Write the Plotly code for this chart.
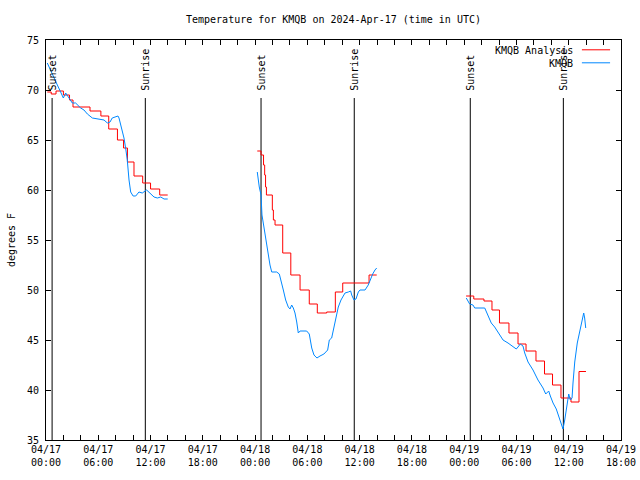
import pandas as pd
import plotly.graph_objects as go

BASE = pd.Timestamp("2024-04-17 00:00")

# ---------------- data (hours after 2024-04-17 00:00 UTC, degrees F) ----------------
obs_h1 = [0.15, 0.73, 1.3, 1.68, 1.99, 2.26, 2.64, 3.02, 3.4, 3.6, 3.98, 4.36, 4.75, 5.32, 6.08, 6.66,
          7.04, 7.35, 7.6, 8.26, 8.38, 8.65, 8.95, 9.14, 9.33, 9.53, 9.72, 10.0, 10.3, 10.67, 11.05,
          11.55, 11.94, 12.4, 12.78, 13.17, 13.55, 13.97]
obs_t1 = [72.7, 71.5, 70.5, 69.8, 69.2, 69.7, 69.2, 68.7, 68.7, 68.5, 68.2, 68.0, 67.6, 67.2, 67.1, 67.0,
          66.7, 66.8, 67.2, 67.4, 67.2, 66.3, 65.2, 64.2, 63.0, 61.0, 59.8, 59.4, 59.4, 59.8, 59.7,
          60.0, 59.7, 59.3, 59.2, 59.3, 59.1, 59.1]

obs_h2 = [24.25, 24.37, 24.48, 24.68, 24.76, 24.79, 24.94, 25.14, 25.33, 25.52, 25.71, 25.91, 26.48, 26.78,
          27.05, 27.24, 27.51, 27.81, 28.01, 28.2, 28.39, 28.58, 28.78, 28.96, 29.16, 29.92, 30.22, 30.5,
          30.76, 31.1, 31.45, 31.9, 32.33, 32.52, 32.79, 32.98, 33.29, 33.55, 33.86, 34.13, 34.32, 34.7,
          34.97, 35.09, 35.35, 35.58, 35.85, 36.04, 36.62, 36.99, 37.19, 37.5, 37.76, 37.96]
obs_t2 = [61.8, 60.8, 60.3, 59.5, 58.5, 57.5, 56.7, 55.6, 54.5, 53.5, 52.5, 51.8, 51.8, 51.6,
          50.8, 50.0, 49.0, 48.3, 48.1, 48.5, 48.2, 47.7, 46.8, 45.7, 45.9, 45.9, 45.6, 44.2,
          43.5, 43.2, 43.4, 43.6, 44.0, 45.0, 45.2, 46.0, 47.3, 48.3, 49.0, 49.5, 49.7, 49.8,
          49.9, 49.5, 49.0, 49.1, 49.8, 50.0, 50.0, 50.5, 51.0, 51.6, 52.0, 52.2]

obs_h3 = [48.24, 48.63, 49.01, 49.21, 50.36, 50.73, 51.11, 51.5, 51.88, 52.46, 53.03, 53.6, 53.98, 54.18,
          54.44, 54.75, 54.95, 55.33, 55.9, 56.47, 57.05, 57.36, 57.7, 57.89, 58.2, 58.57, 58.88, 59.15,
          59.34, 59.54, 59.72, 60.0, 60.18, 60.38, 60.49, 60.69, 60.98, 61.26, 61.52, 61.72, 61.83, 61.95]
obs_t3 = [49.2, 48.6, 48.5, 48.2, 48.2, 47.5, 46.7, 46.3, 45.8, 45.0, 44.7, 44.3, 44.1, 44.3,
          44.6, 44.4, 43.7, 42.8, 42.0, 41.0, 40.2, 39.6, 39.9, 39.4, 38.7, 38.1, 37.3, 36.5,
          36.1, 37.0, 38.0, 39.6, 39.0, 39.2, 40.7, 42.8, 44.7, 45.8, 46.8, 47.7, 47.2, 46.2]

ana_h1 = [0.15, 0.6, 1.15, 2.0, 2.7, 3.1, 5.05, 6.3, 7.2, 8.2, 8.9, 9.35, 10.1, 11.1, 12.0, 13.05, 13.97]
ana_t1 = [69.8, 69.6, 69.9, 69.5, 69.0, 68.3, 67.9, 67.4, 66.1, 65.0, 64.2, 62.8, 61.4, 60.7, 60.1, 59.5, 59.5]

ana_h2 = [24.25, 24.68, 24.97, 25.1, 25.2, 25.3, 25.98, 26.1, 26.29, 27.17, 28.1, 29.16, 30.22, 31.14,
          32.22, 33.21, 34.06, 37.08, 37.96]
ana_t2 = [63.9, 63.5, 62.5, 61.5, 60.3, 59.5, 58.0, 57.0, 56.5, 53.7, 51.5, 50.0, 48.6, 47.7,
          47.8, 49.8, 50.7, 51.5, 51.5]

ana_h3 = [48.22, 49.1, 50.27, 51.19, 52.05, 53.14, 54.18, 55.1, 56.24, 57.22, 58.14, 59.11, 60.26, 61.18, 61.98]
ana_t3 = [49.4, 49.1, 48.9, 48.0, 46.7, 45.7, 44.6, 43.9, 42.9, 41.6, 40.5, 39.2, 38.8, 41.85, 41.85]

sun_labels = ["Sunset", "Sunrise", "Sunset", "Sunrise", "Sunset", "Sunrise"]
sun_times = ["2024-04-17 00:42", "2024-04-17 11:24", "2024-04-18 00:41",
             "2024-04-18 11:23", "2024-04-19 00:42", "2024-04-19 11:23"]

series_names = ["KMQB Analysis", "KMQB"]
series_colors = ["#ff0000", "#0088ff"]

x_start = "2024-04-17 00:00"
x_end = "2024-04-19 18:00"
y_min, y_max = 35, 75

FONT = "DejaVu Sans Mono"


def join(segments):
    xs, ys = [], []
    for hrs, vals in segments:
        xs += list(BASE + pd.to_timedelta(hrs, unit="h"))
        ys += list(vals)
        xs.append(None)
        ys.append(None)
    return xs, ys


fig = go.Figure()

ax, ay = join([(ana_h1, ana_t1), (ana_h2, ana_t2), (ana_h3, ana_t3)])
ox, oy = join([(obs_h1, obs_t1), (obs_h2, obs_t2), (obs_h3, obs_t3)])

# sunrise / sunset lines
for lab, t in zip(sun_labels, sun_times):
    fig.add_trace(go.Scatter(x=[t, t], y=[y_min, 69.2], mode="lines",
                             line=dict(color="black", width=1), showlegend=False, hoverinfo="skip"))
    fig.add_annotation(x=t, y=69.75, xref="x", yref="y", text=lab, textangle=-90,
                       showarrow=False, xanchor="center", yanchor="bottom",
                       font=dict(family=FONT, size=10, color="black"))

fig.add_trace(go.Scatter(x=ax, y=ay, mode="lines", name=series_names[0], line_shape="hv",
                         line=dict(color=series_colors[0], width=1), connectgaps=False))
fig.add_trace(go.Scatter(x=ox, y=oy, mode="lines", name=series_names[1],
                         line=dict(color=series_colors[1], width=1), connectgaps=False))

# legend drawn gnuplot-style (text then sample line)
for i, (nm, col) in enumerate(zip(series_names, series_colors)):
    yy = 0.9725 - i * 0.0325
    fig.add_annotation(x=0.92, y=yy, xref="paper", yref="paper", text=nm, showarrow=False,
                       xanchor="right", yanchor="middle", font=dict(family=FONT, size=10, color="black"))
    fig.add_shape(type="line", xref="paper", yref="paper", x0=0.932, x1=0.981, y0=yy + 0.003, y1=yy + 0.003,
                  line=dict(color=col, width=1))

fig.update_layout(
    width=640, height=480,
    margin=dict(l=46, r=19, t=40, b=40),
    paper_bgcolor="white", plot_bgcolor="white",
    showlegend=False,
    font=dict(family=FONT, size=10, color="black"),
    title=dict(text="Temperature for KMQB on 2024-Apr-17 (time in UTC)", x=0.5, xref="paper",
               xanchor="center", y=1 - 19 / 480, yref="container", yanchor="middle",
               font=dict(family=FONT, size=10, color="black")),
)

fig.update_xaxes(
    type="date", range=[x_start, x_end], tick0=x_start, dtick=6 * 3600000,
    tickformat="%m/%d<br>%H:%M", ticks="inside", ticklen=5, tickcolor="black",
    showline=True, linecolor="black", linewidth=1, mirror="ticks", automargin=False,
    showgrid=False, zeroline=False, tickfont=dict(family=FONT, size=10, color="black"),
    minor=dict(dtick=2 * 3600000, tick0=x_start, ticks="inside", ticklen=5, tickcolor="black", showgrid=False),
)
fig.update_yaxes(
    range=[y_min, y_max], dtick=5, ticks="inside", ticklen=5, tickcolor="black",
    showline=True, linecolor="black", linewidth=1, mirror="ticks", ticklabelstandoff=4,
    automargin=False,
    showgrid=False, zeroline=False, tickfont=dict(family=FONT, size=10, color="black"),
    title=dict(text="degrees F", font=dict(family=FONT, size=10, color="black"), standoff=9),
)

fig.write_html("out.html", config={"displayModeBar": False},
               post_script="document.body.style.margin='0';")
